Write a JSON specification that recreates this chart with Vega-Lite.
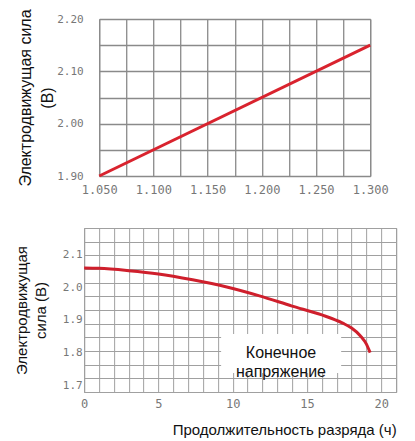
{
  "$schema": "https://vega.github.io/schema/vega-lite/v6.json",
  "background": "white",
  "padding": {"left": 13, "top": 8, "right": 0, "bottom": 4},
  "spacing": 30,
  "center": true,
  "config": {
    "view": {"stroke": "#8a8a8a", "strokeWidth": 1},
    "axis": {
      "labelFont": "DejaVu Sans Mono",
      "labelFontSize": 12,
      "labelColor": "#777777",
      "titleFont": "Liberation Sans",
      "titleColor": "#111111",
      "titleFontWeight": "normal",
      "ticks": false,
      "domain": false,
      "labelFlush": false,
      "labelOverlap": false
    }
  },
  "vconcat": [
    {
      "width": 271,
      "height": 157,
      "data": {"values": [{"density": 1.05, "emf": 1.9}, {"density": 1.3, "emf": 2.15}]},
      "mark": {"type": "line", "color": "#d9232e", "strokeWidth": 3},
      "encoding": {
        "x": {
          "field": "density",
          "type": "quantitative",
          "scale": {"domain": [1.05, 1.3], "nice": false, "zero": false},
          "axis": {
            "title": null,
            "values": [1.05, 1.075, 1.1, 1.125, 1.15, 1.175, 1.2, 1.225, 1.25, 1.275, 1.3],
            "labelExpr": "round(datum.value*1000)%50==0 ? format(datum.value,'.3f') : ''",
            "labelDx": 16,
            "labelPadding": 8,
            "gridColor": "#8a8a8a",
            "gridWidth": 1.3,
            "gridOpacity": 1
          }
        },
        "y": {
          "field": "emf",
          "type": "quantitative",
          "scale": {"domain": [1.9, 2.2], "nice": false, "zero": false},
          "axis": {
            "title": ["Электродвижущая сила", "(В)"],
            "titleFontSize": 16,
            "titleLineHeight": 22,
            "titlePadding": 1,
            "values": [1.9, 1.95, 2.0, 2.05, 2.1, 2.15, 2.2],
            "labelExpr": "round(datum.value*100)%10==0 ? format(datum.value,'.2f') : ''",
            "labelFontSize": 11,
            "labelDy": 5,
            "labelPadding": 16,
            "gridColor": "#8a8a8a",
            "gridWidth": 1.3,
            "gridOpacity": 1
          }
        }
      }
    },
    {
      "width": 312,
      "height": 164,
      "resolve": {"axis": {"y": "independent"}},
      "encoding": {
        "x": {
          "type": "quantitative",
          "scale": {"domain": [0, 21], "nice": false, "zero": false},
          "axis": {
            "title": "Продолжительность разряда (ч)",
            "titleFontSize": 15,
            "titleAnchor": "end",
            "titlePadding": 13,
            "values": [0, 1, 2, 3, 4, 5, 6, 7, 8, 9, 10, 11, 12, 13, 14, 15, 16, 17, 18, 19, 20, 21],
            "labelExpr": "datum.value % 5 == 0 ? format(datum.value,'d') : ''",
            "labelPadding": 6,
            "gridColor": "#a0a0a0",
            "gridOpacity": 1
          }
        }
      },
      "layer": [
        {
          "data": {"values": [{"xa": 9.22, "xb": 17.3, "ya": 1.738, "yb": 1.857}]},
          "mark": {"type": "rect", "fill": "white"},
          "encoding": {
            "x": {
              "field": "xa",
              "type": "quantitative",
              "scale": {"domain": [0, 21], "nice": false, "zero": false},
              "axis": {
                "title": "Продолжительность разряда (ч)",
                "titleFontSize": 15,
                "titleAnchor": "end",
                "titlePadding": 13,
                "values": [0, 1, 2, 3, 4, 5, 6, 7, 8, 9, 10, 11, 12, 13, 14, 15, 16, 17, 18, 19, 20, 21],
                "labelExpr": "datum.value % 5 == 0 ? format(datum.value,'d') : ''",
                "labelPadding": 6,
                "gridColor": "#a0a0a0",
                "gridOpacity": 1
              }
            },
            "x2": {"field": "xb"},
            "y": {
              "field": "ya",
              "type": "quantitative",
              "scale": {"domain": [1.68, 2.18], "nice": false, "zero": false},
              "axis": {
                "orient": "right",
                "title": null,
                "labels": true,
                "labelExpr": "'0'",
                "labelColor": "transparent",
                "labelBaseline": "top",
                "labelPadding": 0,
                "grid": true,
                "gridColor": "#a0a0a0",
                "gridOpacity": 1,
                "values": [1.68, 1.72167, 1.76333, 1.805, 1.84667, 1.88833, 1.93, 1.97167, 2.01333, 2.055, 2.09667, 2.13833, 2.18]
              }
            },
            "y2": {"field": "yb"}
          }
        },
        {
          "data": {"values": [
            {"t": 0, "v": 2.058},
            {"t": 1, "v": 2.057},
            {"t": 3, "v": 2.05},
            {"t": 5, "v": 2.04},
            {"t": 7.3, "v": 2.022},
            {"t": 9.6, "v": 2.0},
            {"t": 11.8, "v": 1.973},
            {"t": 14, "v": 1.942},
            {"t": 16, "v": 1.915},
            {"t": 17.4, "v": 1.89},
            {"t": 18, "v": 1.875},
            {"t": 18.6, "v": 1.851},
            {"t": 19, "v": 1.826},
            {"t": 19.25, "v": 1.8}
          ]},
          "mark": {"type": "line", "color": "#cf1f2c", "strokeWidth": 3, "interpolate": "monotone"},
          "encoding": {
            "x": {"field": "t", "type": "quantitative"},
            "y": {
              "field": "v",
              "type": "quantitative",
              "scale": {"domain": [1.68, 2.18], "nice": false, "zero": false},
              "axis": {
                "orient": "left",
                "title": ["Электродвижущая", "сила (В)"],
                "titleFontSize": 15,
                "titleLineHeight": 19,
                "titlePadding": 14,
                "values": [1.7, 1.8, 1.9, 2.0, 2.1],
                "format": ".1f",
                "labelFontSize": 11,
                "grid": false,
                "labelPadding": 2
              }
            }
          }
        },
        {
          "data": {"values": [{"xt": 13.25, "yt": 1.8, "label": "Конечное\nнапряжение"}]},
          "mark": {"type": "text", "font": "Liberation Sans", "fontSize": 16, "lineBreak": "\n", "lineHeight": 19, "color": "#111111", "baseline": "middle", "align": "center"},
          "encoding": {
            "x": {"field": "xt", "type": "quantitative"},
            "y": {"field": "yt", "type": "quantitative", "axis": null},
            "text": {"field": "label"}
          }
        }
      ]
    }
  ]
}
